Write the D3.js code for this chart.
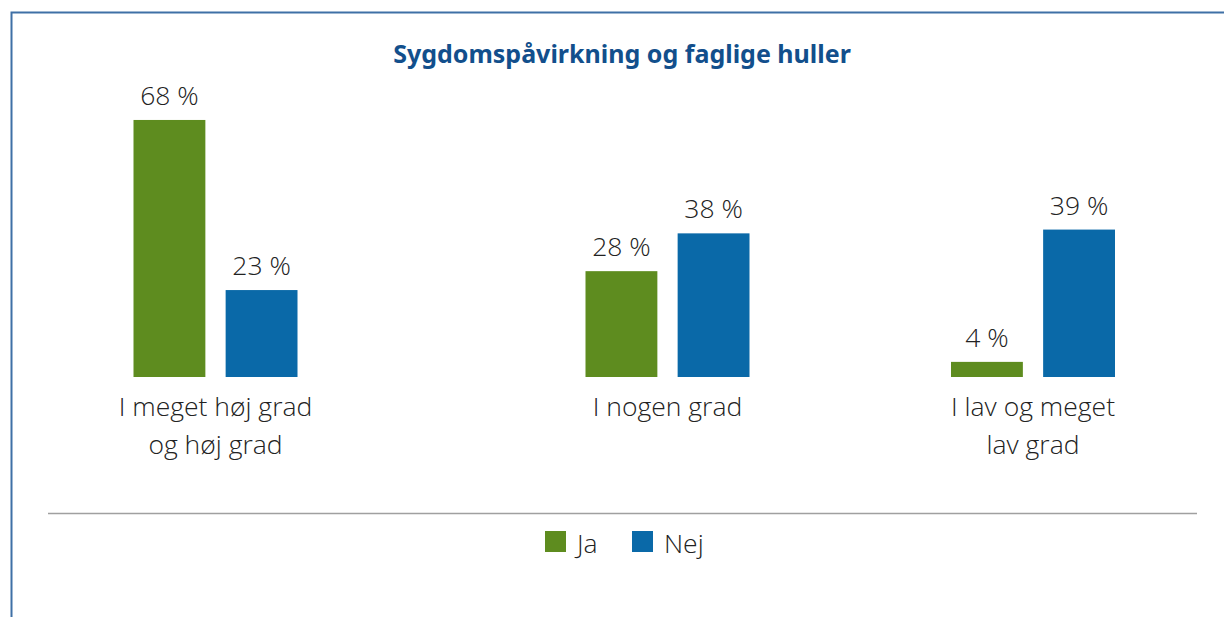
<!DOCTYPE html>
<html><head><meta charset="utf-8">
<script src="https://cdn.jsdelivr.net/npm/d3@7"></script>
<style>
html,body{margin:0;padding:0;background:#fff;}
svg{display:block;font-family:"Open Sans","Noto Sans",sans-serif;}
</style></head>
<body>
<svg id="chart" width="1224" height="617"></svg>
<script>
const title = "Sygdomspåvirkning og faglige huller";
const categories = ["I meget høj grad og høj grad", "I nogen grad", "I lav og meget lav grad"];
const categoryLines = [["I meget høj grad", "og høj grad"], ["I nogen grad"], ["I lav og meget", "lav grad"]];
const seriesNames = ["Ja", "Nej"];
const jaValues = [68, 28, 4];
const nejValues = [23, 38, 39];
const colors = ["#5e8c1f", "#0a69a8"];

const svg = d3.select("#chart");
const W = 1224, H = 617;
const txtFont = 26.5, txtWeight = 300, txtColor = "#222";

svg.append("path").attr("d", `M11.5,${H} V12.5 H${W}`).attr("fill", "none")
  .attr("stroke", "#3f70a6").attr("stroke-width", 2);

svg.append("text").attr("x", 622).attr("y", 63).attr("text-anchor", "middle")
  .attr("font-family", "Noto Sans")
  .attr("font-size", 25).attr("font-weight", "bold").attr("fill", "#124f8c").text(title);

const x = d3.scaleOrdinal().domain(categories).range([215.5, 667.5, 1033]);
const sub = d3.scaleBand().domain(seriesNames).range([-82, 82]).paddingInner(0.22).paddingOuter(0);
const y = d3.scaleLinear().domain([0, 100]).range([377, 377 - 378]);

const data = categories.map((c, i) => ({cat: c, lines: categoryLines[i], vals: [jaValues[i], nejValues[i]]}));

const g = svg.append("g");
data.forEach(d => {
  d.vals.forEach((v, j) => {
    const s = seriesNames[j];
    const bx = x(d.cat) + sub(s);
    g.append("rect").attr("x", bx).attr("y", y(v)).attr("width", sub.bandwidth())
      .attr("height", y(0) - y(v)).attr("fill", colors[j]);
    g.append("text").attr("x", bx + sub.bandwidth() / 2).attr("y", y(v) - 15)
      .attr("text-anchor", "middle").attr("font-size", txtFont).attr("font-weight", txtWeight)
      .attr("fill", txtColor).text(v + " %");
  });
  d.lines.forEach((ln, k) => {
    g.append("text").attr("x", x(d.cat)).attr("y", 416 + k * 37.5)
      .attr("text-anchor", "middle").attr("font-size", txtFont).attr("font-weight", txtWeight)
      .attr("fill", txtColor).text(ln);
  });
});

svg.append("line").attr("x1", 48).attr("x2", 1197).attr("y1", 513.5).attr("y2", 513.5)
  .attr("stroke", "#a0a0a0").attr("stroke-width", 1.5);

const legX = [545, 632];
seriesNames.forEach((s, j) => {
  svg.append("rect").attr("x", legX[j]).attr("y", 531).attr("width", 21).attr("height", 21).attr("fill", colors[j]);
  svg.append("text").attr("x", legX[j] + 32).attr("y", 553).attr("font-size", txtFont)
    .attr("font-weight", txtWeight).attr("fill", txtColor).text(s);
});
</script>
</body></html>
